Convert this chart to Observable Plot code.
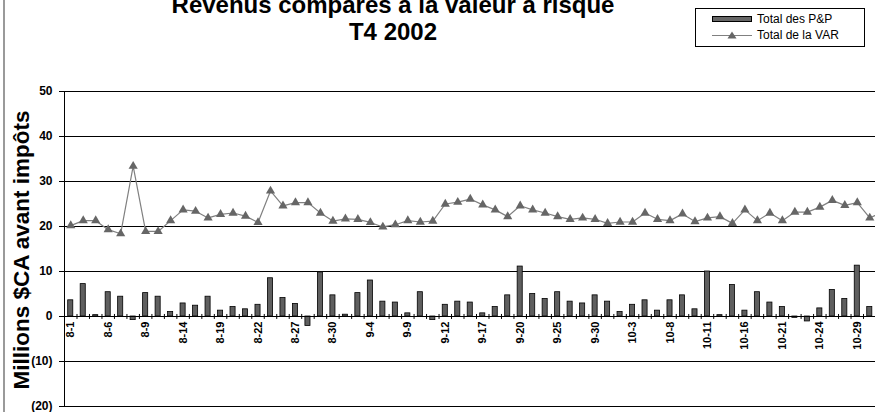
<!DOCTYPE html>
<html><head><meta charset="utf-8">
<script src="https://cdn.jsdelivr.net/npm/d3@7"></script>
<script src="https://cdn.jsdelivr.net/npm/@observablehq/plot@0.6"></script>
<style>
html,body{margin:0;padding:0;overflow:hidden;background:#fff;}
#wrap{position:relative;width:875px;height:412px;overflow:hidden;font-family:"Liberation Sans",Arial,sans-serif;color:#000;}
#chart{position:absolute;left:0;top:0;width:888px;}
#chart svg{max-width:none !important;}
#border{position:absolute;left:3px;top:0;width:2px;height:412px;background:#9a9a9a;}
.title{position:absolute;left:0;width:786px;text-align:center;font-weight:bold;font-size:24px;line-height:24px;white-space:nowrap;}
#ylab{position:absolute;left:22px;top:250px;transform:translate(-50%,-50%) rotate(-90deg);font-weight:bold;font-size:22.5px;white-space:nowrap;}
#legend{position:absolute;left:695px;top:8px;width:168px;height:37px;border:1px solid #000;background:#fff;font-size:12px;}
.lrow{position:absolute;left:0;height:14px;line-height:14px;white-space:nowrap;}
.lrow span{position:absolute;left:61px;top:0;}
</style></head><body>
<div id="wrap">
  <div id="chart"></div>
  <div id="border"></div>
  <div class="title" style="top:-7px">Revenus comparés à la valeur à risque</div>
  <div class="title" style="top:20px">T4 2002</div>
  <div id="ylab">Millions $CA avant impôts</div>
  <div id="legend">
    <div class="lrow" style="top:3px"><svg width="60" height="14" style="position:absolute;left:0;top:0"><rect x="16.5" y="4.5" width="39" height="5" fill="#666" stroke="#000"/></svg><span>Total des P&amp;P</span></div>
    <div class="lrow" style="top:19px"><svg width="60" height="14" style="position:absolute;left:0;top:0"><line x1="16" x2="56" y1="7.5" y2="7.5" stroke="#808080" stroke-width="1"/><path d="M36,3.5 L40.5,10.5 L31.5,10.5 Z" fill="#666"/></svg><span>Total de la VAR</span></div>
  </div>
</div>
<script>
const dates = ["8-1","8-2","8-5","8-6","8-7","8-8","8-9","8-12","8-13","8-14","8-15","8-16","8-19","8-20","8-21","8-22","8-23","8-26","8-27","8-28","8-29","8-30",
  "9-2","9-3","9-4","9-5","9-6","9-9","9-10","9-11","9-12","9-13","9-16","9-17","9-18","9-19","9-20","9-23","9-24","9-25","9-26","9-27","9-30",
  "10-1","10-2","10-3","10-4","10-7","10-8","10-9","10-10","10-11","10-14","10-15","10-16","10-17","10-18","10-21","10-22","10-23","10-24","10-25","10-28","10-29","10-30","10-31"];
const totalPP = [3.6,7.2,0.3,5.4,4.4,-0.8,5.2,4.4,1.0,2.9,2.4,4.4,1.3,2.1,1.6,2.6,8.5,4.1,2.8,-2.1,9.8,4.7,
  0.4,5.2,8.0,3.3,3.1,0.7,5.4,-0.8,2.6,3.3,3.1,0.7,2.1,4.7,11.1,5.0,3.9,5.4,3.3,2.9,4.7,
  3.3,1.0,2.6,3.6,1.3,3.6,4.7,1.6,10.0,0.3,7.0,1.3,5.4,3.1,2.1,-0.3,-1.1,1.8,5.9,3.9,11.3,2.1,1.0];
const totalVAR = [20.2,21.3,21.3,19.3,18.4,33.4,18.9,18.9,21.3,23.7,23.4,21.9,22.7,23.0,22.3,20.9,27.9,24.6,25.3,25.3,23.0,21.2,
  21.7,21.6,20.9,19.9,20.4,21.3,21.0,21.2,25.0,25.4,26.1,24.8,23.7,22.2,24.6,23.7,23.0,22.2,21.6,21.9,21.6,
  20.7,21.0,21.0,23.0,21.6,21.3,22.8,21.1,21.9,22.2,20.7,23.7,21.3,23.0,21.3,23.2,23.2,24.3,25.8,24.7,25.3,21.9,23.2];
const yTicks = [-20,-10,0,10,20,30,40,50];
const labelDates = ["8-1","8-6","8-9","8-14","8-19","8-22","8-27","8-30","9-4","9-9","9-12","9-17","9-20","9-25","9-30","10-3","10-8","10-11","10-16","10-21","10-24","10-29"];

const data = dates.map((d, i) => ({date: d, pp: totalPP[i], vr: totalVAR[i]}));
const W = 888, ML = 64;
const bw = (W - ML) / dates.length;
const fmt = d => d < 0 ? `(${-d})` : `${d}`;
const font = '"Liberation Sans", Arial, sans-serif';

const chart = Plot.plot({
  width: W, height: 412,
  marginLeft: ML, marginRight: 0, marginTop: 91, marginBottom: 6,
  style: {fontFamily: font, background: "transparent", color: "#000", overflow: "visible", maxWidth: "none"},
  x: {type: "band", domain: dates, padding: 0, axis: null},
  y: {domain: [-20, 50], axis: null},
  marks: [
    Plot.ruleY(yTicks.filter(t => t !== 0), {stroke: "#000", strokeWidth: 1}),
    Plot.axisY(yTicks, {anchor: "left", tickSize: 5, tickPadding: 7, tickFormat: fmt, fontWeight: "bold", fontSize: 12, label: null, stroke: "#000"}),
    Plot.barY(data, {x: "date", y: "pp", fill: "#5f5f5f", stroke: "#000", strokeWidth: 0.8, insetLeft: 3.7, insetRight: 3.7}),
    Plot.ruleY([0], {stroke: "#000", strokeWidth: 1}),
    Plot.ruleX(dates, {x: d => d, dx: -bw / 2, y1: -0.65, y2: 0.45, stroke: "#000", strokeWidth: 1}),
    Plot.frame({anchor: "left", stroke: "#000"}),
    Plot.text(labelDates, {x: d => d, y: 0, text: d => d, rotate: -90, textAnchor: "end", lineAnchor: "middle", dy: 5, fontWeight: "bold", fontSize: 11, fill: "#000"}),
    Plot.line(data, {x: "date", y: "vr", stroke: "#808080", strokeWidth: 1.2}),
    Plot.dot(data, {x: "date", y: "vr", symbol: "triangle", r: 3.4, fill: "#666", stroke: "none"})
  ]
});
chart.style.maxWidth = "none";
document.getElementById("chart").appendChild(chart);
</script>
</body></html>
